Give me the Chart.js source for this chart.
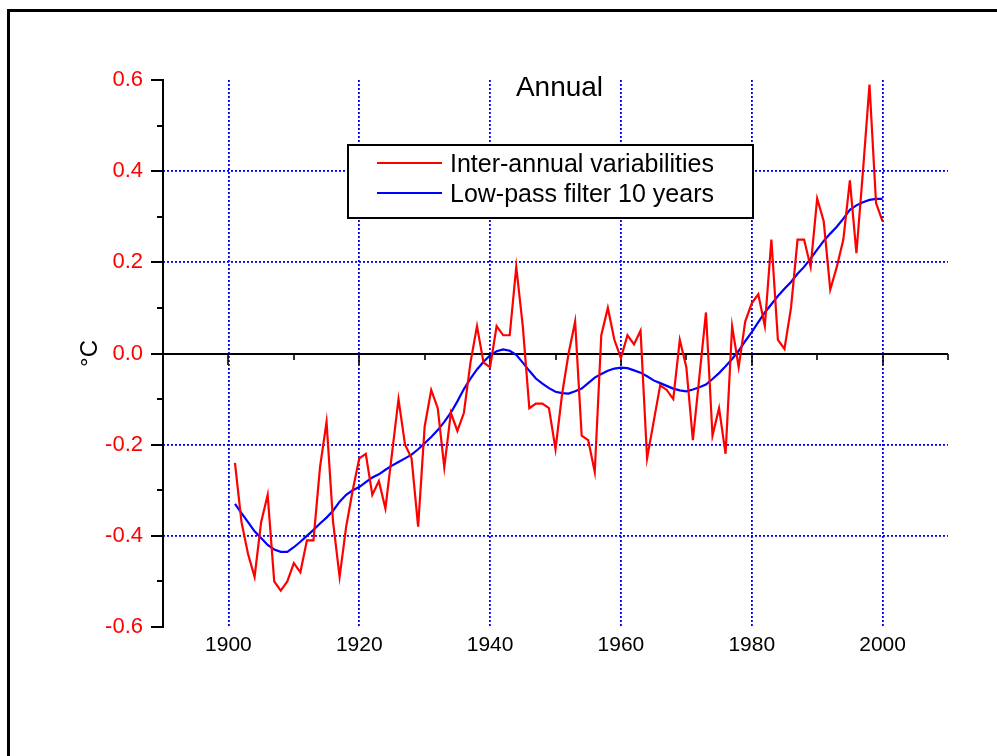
<!DOCTYPE html>
<html><head><meta charset="utf-8">
<script src="https://cdn.jsdelivr.net/npm/chart.js@4.4.1/dist/chart.umd.min.js"></script>
<style>html,body{margin:0;padding:0;background:#fff;} #wrap{position:relative;width:997px;height:756px;}</style>
</head><body><div id="wrap"><canvas id="c"></canvas></div>
<script>
const firstYear = 1901;
const annual = [
 -0.24,-0.37,-0.44,-0.49,-0.37,-0.31,-0.50,-0.52,-0.50,-0.46,
 -0.48,-0.41,-0.41,-0.25,-0.15,-0.37,-0.49,-0.38,-0.30,-0.23,
 -0.22,-0.31,-0.28,-0.34,-0.22,-0.10,-0.20,-0.23,-0.38,-0.16,
 -0.08,-0.12,-0.25,-0.13,-0.17,-0.13,-0.02,0.06,-0.02,-0.03,
 0.06,0.04,0.04,0.19,0.06,-0.12,-0.11,-0.11,-0.12,-0.21,
 -0.09,0.00,0.07,-0.18,-0.19,-0.26,0.04,0.10,0.03,-0.01,
 0.04,0.02,0.05,-0.23,-0.15,-0.07,-0.08,-0.10,0.03,-0.03,
 -0.19,-0.05,0.09,-0.18,-0.12,-0.22,0.06,-0.03,0.07,0.11,
 0.13,0.06,0.25,0.03,0.01,0.10,0.25,0.25,0.19,0.34,
 0.29,0.14,0.19,0.25,0.38,0.22,0.40,0.59,0.33,0.29
];
const lowpass = [
 -0.33,-0.35,-0.37,-0.39,-0.405,-0.42,-0.43,-0.435,-0.435,-0.425,
 -0.413,-0.40,-0.387,-0.373,-0.36,-0.345,-0.325,-0.31,-0.30,-0.293,
 -0.282,-0.272,-0.265,-0.255,-0.246,-0.238,-0.23,-0.222,-0.21,-0.197,
 -0.183,-0.168,-0.15,-0.13,-0.105,-0.078,-0.055,-0.035,-0.018,-0.004,
 0.005,0.009,0.006,-0.003,-0.02,-0.038,-0.055,-0.066,-0.076,-0.084,
 -0.087,-0.088,-0.083,-0.077,-0.065,-0.053,-0.045,-0.038,-0.033,-0.031,
 -0.032,-0.037,-0.042,-0.05,-0.059,-0.065,-0.071,-0.077,-0.081,-0.083,
 -0.079,-0.074,-0.068,-0.056,-0.043,-0.028,-0.012,0.006,0.027,0.047,
 0.069,0.09,0.108,0.126,0.142,0.157,0.175,0.19,0.208,0.228,
 0.247,0.263,0.278,0.296,0.315,0.325,0.332,0.337,0.339,0.339
];
const xTickValues = [1900,1920,1940,1960,1980,2000];
const xMinorTicks = [1910,1930,1950,1970,1990,2010];
const yTickValues = [-0.6,-0.4,-0.2,0,0.2,0.4,0.6];
const yMinorTicks = [-0.5,-0.3,-0.1,0.1,0.3,0.5];
const xRange = [1890, 2010];
const yRange = [-0.6, 0.6];
const titleText = 'Annual';
const yTitle = '°C';
const seriesLabels = ['Inter-annual variabilities','Low-pass filter 10 years'];

const FONT = '"Liberation Sans", Arial, Helvetica, sans-serif';
const toPoints = arr => arr.map((v, i) => ({x: firstYear + i, y: v}));

const decor = {
  id: 'decor',
  beforeDatasetsDraw(chart) {
    const {ctx, chartArea: a, scales: {x, y}} = chart;
    ctx.save();
    ctx.setLineDash([]);
    ctx.strokeStyle = '#000';
    const y0 = Math.round(y.getPixelForValue(0));
    ctx.lineWidth = 2;
    ctx.beginPath(); ctx.moveTo(a.left - 1, y0); ctx.lineTo(a.right, y0); ctx.stroke();
    ctx.lineWidth = 1.6;
    xTickValues.forEach(v => { const p = Math.round(x.getPixelForValue(v)); ctx.beginPath(); ctx.moveTo(p, y0); ctx.lineTo(p, y0 + 11); ctx.stroke(); });
    xMinorTicks.forEach(v => { const p = Math.round(x.getPixelForValue(v)); ctx.beginPath(); ctx.moveTo(p, y0); ctx.lineTo(p, y0 + 6); ctx.stroke(); });
    ctx.lineWidth = 2;
    ctx.beginPath(); ctx.moveTo(a.left, a.top - 1); ctx.lineTo(a.left, a.bottom + 1); ctx.stroke();
    yTickValues.forEach(v => { const p = Math.round(y.getPixelForValue(v)); ctx.beginPath(); ctx.moveTo(a.left - 12, p); ctx.lineTo(a.left, p); ctx.stroke(); });
    yMinorTicks.forEach(v => { const p = Math.round(y.getPixelForValue(v)); ctx.beginPath(); ctx.moveTo(a.left - 6, p); ctx.lineTo(a.left, p); ctx.stroke(); });
    ctx.restore();
  },
  afterDraw(chart) {
    const {ctx, chartArea: a} = chart;
    ctx.save();
    ctx.setLineDash([]);
    ctx.strokeStyle = '#000'; ctx.lineWidth = 3;
    ctx.strokeRect(8.5, 10.5, 2000, 2000);
    ctx.fillStyle = '#000';
    ctx.font = '28px ' + FONT;
    ctx.textAlign = 'center'; ctx.textBaseline = 'middle';
    ctx.fillText(titleText, (a.left + a.right) / 2 + 4, a.top + 8);
    const lx = a.left + 185, ly = a.top + 65, lw = 405, lh = 73;
    ctx.fillStyle = '#fff'; ctx.fillRect(lx, ly, lw, lh);
    ctx.strokeStyle = '#000'; ctx.lineWidth = 2; ctx.strokeRect(lx, ly, lw, lh);
    ctx.font = '25px ' + FONT; ctx.textAlign = 'left'; ctx.textBaseline = 'middle';
    chart.data.datasets.forEach((ds, i) => {
      const cy = ly + 18 + i * 30;
      ctx.strokeStyle = ds.borderColor; ctx.lineWidth = 2;
      ctx.beginPath(); ctx.moveTo(lx + 29, cy); ctx.lineTo(lx + 94, cy); ctx.stroke();
      ctx.fillStyle = '#000';
      ctx.fillText(ds.label, lx + 102, cy + 2);
    });
    ctx.restore();
  }
};

new Chart(document.getElementById('c'), {
  type: 'line',
  data: {
    datasets: [
      {label: seriesLabels[0], data: toPoints(annual), borderColor: '#ff0000', borderWidth: 2.2, pointRadius: 0, tension: 0, fill: false},
      {label: seriesLabels[1], data: toPoints(lowpass), borderColor: '#0000ff', borderWidth: 2.2, pointRadius: 0, tension: 0, fill: false}
    ]
  },
  options: {
    responsive: true,
    maintainAspectRatio: false,
    animation: false,
    layout: {padding: {left: 63, right: 49, top: 80, bottom: 69}},
    plugins: {legend: {display: false}, title: {display: false}, tooltip: {enabled: false}},
    scales: {
      x: {
        type: 'linear', position: 'bottom', min: xRange[0], max: xRange[1],
        afterBuildTicks: s => { s.ticks = xTickValues.map(v => ({value: v})); },
        afterFit: s => { s.height = 60; },
        ticks: {color: '#000', font: {size: 21, family: FONT}, padding: 6, maxRotation: 0, autoSkip: false, callback: v => String(v)},
        grid: {display: true, color: '#0000ff', lineWidth: 1.8, drawTicks: false},
        border: {display: false, dash: [2, 2]}
      },
      y: {
        type: 'linear', min: yRange[0], max: yRange[1],
        afterBuildTicks: s => { s.ticks = yTickValues.map(v => ({value: v})); },
        afterFit: s => { s.width = 100; },
        ticks: {color: '#ff0000', font: {size: 22, family: FONT}, padding: 20, autoSkip: false, callback: v => Number(v).toFixed(1)},
        grid: {display: true, drawTicks: false, lineWidth: 1.8,
          color: c => (Math.abs(c.tick.value) > 0.55 || Math.abs(c.tick.value) < 1e-9) ? 'rgba(0,0,0,0)' : '#0000ff'},
        border: {display: false, dash: [2, 2]},
        title: {display: true, text: yTitle, color: '#000', font: {size: 24, family: FONT}, padding: {top: 13, bottom: 0}}
      }
    }
  },
  plugins: [decor]
});
</script>
</body></html>
